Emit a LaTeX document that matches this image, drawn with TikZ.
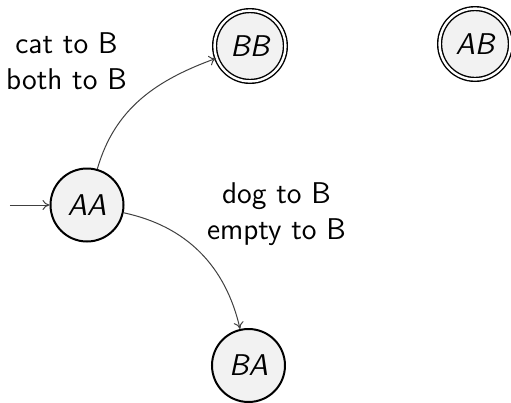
\documentclass[tikz,border=0pt]{standalone}
\usepackage{fontspec}
\usetikzlibrary{arrows.meta}
\begin{document}
\begin{tikzpicture}[x=0.5pt,y=-0.5pt,
  state/.style={circle, draw=black, line width=1pt, fill=gray!10,
    minimum size=36.5pt, inner sep=0pt,
    font=\fontsize{15}{18}\selectfont\sffamily\itshape},
  accept/.style={state, line width=0.7pt, double=white,
    double distance=1.2pt, minimum size=35.4pt},
  trans/.style={draw=black!75, line width=0.5pt, -{To[length=3.5pt,width=5pt]}},
  lbl/.style={font=\fontsize{15}{18}\selectfont\sffamily,
    align=center, inner sep=0pt}]
  \useasboundingbox (0,0) rectangle (511,403);

  % states
  \node[state]  (AA) at (87,205)     {AA};
  \node[accept] (BB) at (250,46)     {BB};
  \node[accept] (AB) at (475,44)     {AB};
  \node[state]  (BA) at (248.5,365.5) {BA};

  % initial arrow
  \coordinate (start) at (10,205);
  \draw[trans] (start) -- (AA);

  % transitions
  \draw[trans] (AA) to[out=74,in=200] (BB);
  \draw[trans] (AA) to[out=-12,in=103] (BA);

  % transition labels
  \node[lbl] (lab1) at (66.5,61)   {cat to B\\both to B};
  \node[lbl] (lab2) at (276.5,214) {dog to B\\empty to B};
\end{tikzpicture}
\end{document}
